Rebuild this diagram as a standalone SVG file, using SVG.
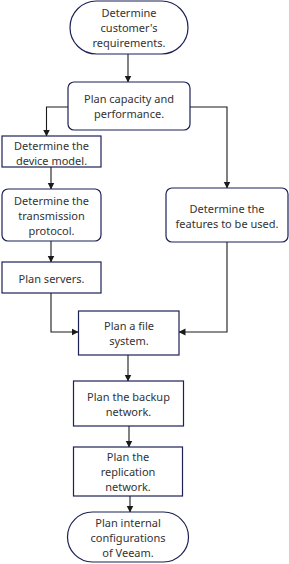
<svg xmlns="http://www.w3.org/2000/svg" width="289" height="564" viewBox="0 0 289 564">
<defs>
<marker id="ah" markerWidth="7" markerHeight="8" refX="6.5" refY="4" orient="auto" markerUnits="userSpaceOnUse">
<path d="M0,0.5 L7,4 L0,7.5 Z" fill="#1a1a1a"/>
</marker>
<style>
.n{fill:#fff;stroke:#1b2155;stroke-width:1.2}
.t{font-family:"Noto Sans","Open Sans",sans-serif;font-size:11px;fill:#333;text-anchor:middle}
.c{fill:none;stroke:#1a1a1a;stroke-width:1.1;marker-end:url(#ah)}
</style>
</defs>
<rect width="289" height="564" fill="#fff"/>
<g id="connectors">
<path class="c" d="M128,54 V82"/>
<path class="c" d="M68,107 H46.5 V136"/>
<path class="c" d="M190,107 H227 V188"/>
<path class="c" d="M51,167 V189"/>
<path class="c" d="M51,241 V262"/>
<path class="c" d="M51,293 V332 H78"/>
<path class="c" d="M227,242 V332 H179"/>
<path class="c" d="M128,355 V381"/>
<path class="c" d="M129,426 V447"/>
<path class="c" d="M130,496 V512"/>
</g>
<g id="n1"><rect class="n" x="70" y="1" width="118" height="53" rx="26.5"/>
<text class="t" x="129" y="17">Determine</text><text class="t" x="129" y="32">customer's</text><text class="t" x="129" y="47">requirements.</text></g>
<g id="n2"><rect class="n" x="68" y="82" width="122" height="48" rx="6"/>
<text class="t" x="129" y="103">Plan capacity and</text><text class="t" x="129" y="118">performance.</text></g>
<g id="n3"><rect class="n" x="2" y="136" width="99" height="31"/>
<text class="t" x="51.5" y="150">Determine the</text><text class="t" x="51.5" y="165">device model.</text></g>
<g id="n4"><rect class="n" x="2" y="189" width="99" height="52" rx="6"/>
<text class="t" x="51.5" y="205">Determine the</text><text class="t" x="51.5" y="220">transmission</text><text class="t" x="51.5" y="235">protocol.</text></g>
<g id="n5"><rect class="n" x="2" y="262" width="99" height="31"/>
<text class="t" x="51.5" y="283">Plan servers.</text></g>
<g id="n6"><rect class="n" x="166" y="188" width="122" height="54" rx="6"/>
<text class="t" x="227" y="213">Determine the</text><text class="t" x="227" y="228">features to be used.</text></g>
<g id="n7"><rect class="n" x="78.5" y="311" width="100.5" height="44"/>
<text class="t" x="129" y="330">Plan a file</text><text class="t" x="129" y="345">system.</text></g>
<g id="n8"><rect class="n" x="73.5" y="381" width="110" height="45"/>
<text class="t" x="128.5" y="401">Plan the backup</text><text class="t" x="128.5" y="416">network.</text></g>
<g id="n9"><rect class="n" x="73.5" y="447" width="109" height="49"/>
<text class="t" x="128" y="461">Plan the</text><text class="t" x="128" y="476">replication</text><text class="t" x="128" y="491">network.</text></g>
<g id="n10"><rect class="n" x="67.5" y="512" width="121" height="50" rx="25"/>
<text class="t" x="128" y="527">Plan internal</text><text class="t" x="128" y="542">configurations</text><text class="t" x="128" y="557">of Veeam.</text></g>
</svg>
